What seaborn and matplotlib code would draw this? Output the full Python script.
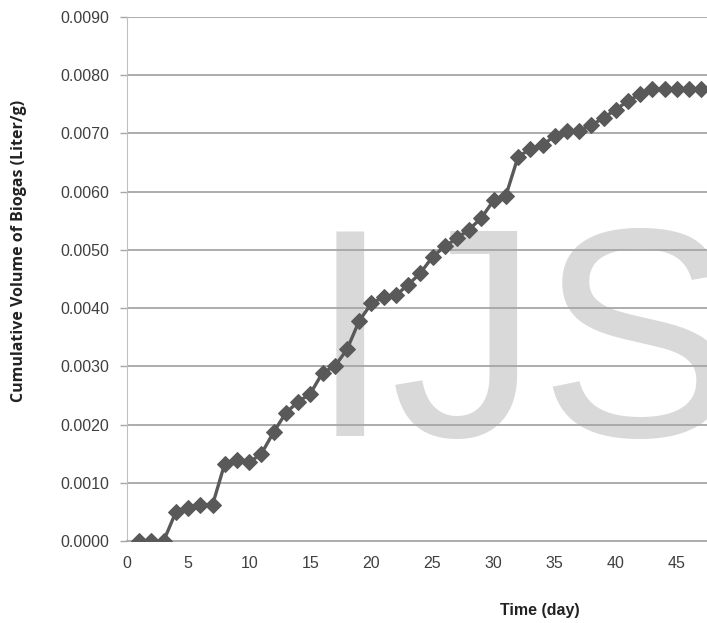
import matplotlib
matplotlib.use("Agg")
import matplotlib.pyplot as plt
import numpy as np
import pandas as pd
import seaborn as sns

# cumulative biogas volume
days = list(range(1, 48))
biogas = [0.0, 0.0, 0.0, 0.00050, 0.00057, 0.00062, 0.00062, 0.00133, 0.00139, 0.00135,
          0.00150, 0.00187, 0.00220, 0.00239, 0.00253, 0.00289, 0.00300, 0.00329, 0.00378, 0.00408,
          0.00419, 0.00422, 0.00440, 0.00460, 0.00488, 0.00506, 0.00520, 0.00535, 0.00555, 0.00585,
          0.00593, 0.00660, 0.00673, 0.00680, 0.00696, 0.00704, 0.00705, 0.00714, 0.00727, 0.00741,
          0.00756, 0.00767, 0.00776, 0.00776, 0.00776, 0.00776, 0.00776]
yticks = [0.0, 0.001, 0.002, 0.003, 0.004, 0.005, 0.006, 0.007, 0.008, 0.009]
xticks = [0, 5, 10, 15, 20, 25, 30, 35, 40, 45]

df = pd.DataFrame({'day': days, 'volume': biogas})

sns.set_style('white')
plt.rcParams['font.family'] = ['DejaVu Sans Condensed', 'Liberation Sans Narrow', 'Liberation Sans', 'DejaVu Sans']

fig = plt.figure(figsize=(7.07, 6.23), dpi=100)
ax = fig.add_axes([0.1796, 0.1316, 0.8204, 0.8411])

# watermark
ax.text(0.314, 0.20, 'IJS', transform=ax.transAxes, fontsize=214, color='#d9d9d9',
        family=['Liberation Sans', 'DejaVu Sans'], ha='left', va='baseline', zorder=0)

for y in yticks[1:]:
    ax.axhline(y, color='#a6a6a6', lw=1.3, zorder=1)

sns.lineplot(data=df, x='day', y='volume', ax=ax, color='#595959', lw=2.4,
             marker='D', markersize=8.5, markeredgecolor='#595959', zorder=3)

ax.set_xlim(0, 47.46)
ax.set_ylim(0, 0.009)
ax.set_yticks(yticks)
ax.set_yticklabels([f'{v:.4f}' for v in yticks])
ax.set_xticks(xticks)
ax.set_xticklabels([str(v) for v in xticks])
ax.tick_params(axis='y', length=5, width=1, color='#a6a6a6', labelsize=11.5,
               labelcolor='#404040', pad=8, left=True)
ax.tick_params(axis='x', length=0, labelsize=11.5, labelcolor='#404040', pad=11)

for s in ['top', 'right']:
    ax.spines[s].set_visible(False)
ax.spines['left'].set_color('#bfbfbf')
ax.spines['bottom'].set_color('#a6a6a6')
ax.spines['bottom'].set_linewidth(1.3)

ax.set_ylabel('Cumulative Volume of Biogas (Liter/g)', fontsize=11.5, fontweight='bold',
              family=['Open Sans', 'DejaVu Sans'], color='#222222')
ax.yaxis.set_label_coords(-0.172, 0.553)
ax.set_xlabel('Time (day)', fontsize=11.5, fontweight='bold', color='#222222')
ax.xaxis.set_label_coords(0.712, -0.118)

fig.savefig('out.png', dpi=100)
